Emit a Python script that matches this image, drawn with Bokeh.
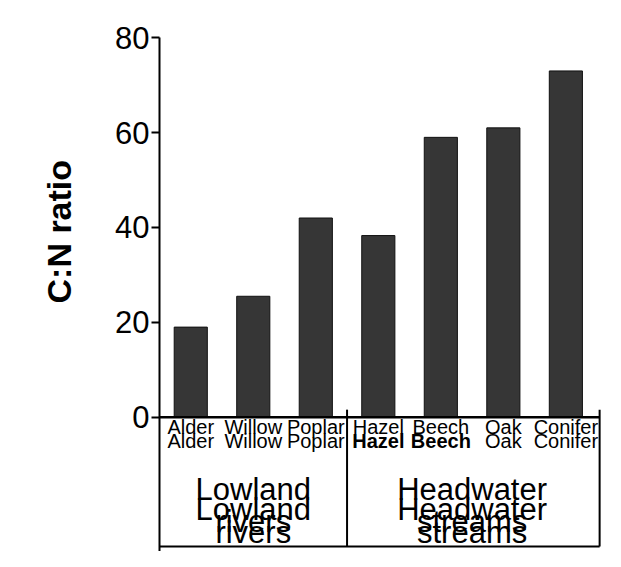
from bokeh.plotting import figure
from bokeh.models import Range1d, FixedTicker, ColumnDataSource, Title
from bokeh.embed import file_html
from bokeh.resources import INLINE
from bokeh.core.properties import value

# ---- data ----
species = ["Alder", "Willow", "Poplar", "Hazel", "Beech", "Oak", "Conifer"]
cn_ratio = [19, 25.5, 42, 38.3, 59, 61, 73]
groups = ["Lowland rivers", "Headwater streams"]
group_sizes = [3, 4]
y_ticks = [0, 20, 40, 60, 80]
y_label = "C:N ratio"

# ---- style ----
FONT = "Liberation Sans"
Y_BOTTOM = -28.30
TXT_SHIFT = 1.9          # text glyph baseline correction (data units)
second_row_styles = ["normal", "normal", "normal", "bold", "bold", "normal", "normal"]

n = len(species)
xpos = [i + 0.5 for i in range(n)]          # category slots on the x scale

p = figure(
    width=605, height=551,
    x_range=Range1d(0, n + 0.07),
    y_range=Range1d(Y_BOTTOM, 80.05),
    output_backend="svg", toolbar_location=None,
    min_border_left=159, min_border_right=4,
    min_border_top=37, min_border_bottom=0,
)
p.background_fill_color = "white"
p.border_fill_color = "white"
p.outline_line_color = None
p.grid.visible = False
p.xaxis.visible = False

yax = p.yaxis[0]
yax.ticker = FixedTicker(ticks=y_ticks)
yax.axis_line_width = 2
yax.axis_line_color = "black"
yax.major_tick_out = 8
yax.major_tick_in = 0
yax.major_tick_line_width = 2
yax.minor_tick_line_color = None
yax.major_label_text_font = FONT
yax.major_label_text_font_size = "31px"
yax.major_label_text_color = "black"
yax.major_label_standoff = 2

src = ColumnDataSource(dict(x=xpos, top=cn_ratio))
p.vbar(x="x", top="top", bottom=0, width=0.53, source=src,
       fill_color="#363636", line_color="#111111", line_width=1)

bounds = [0]
for s in group_sizes:
    bounds.append(bounds[-1] + s)

BOX_BOTTOM = -27.24
RIGHT = n + 0.04
# baseline
p.segment(x0=[0], y0=[0], x1=[RIGHT], y1=[0], line_color="black", line_width=2.5)
# box around category labels
p.segment(x0=[0], y0=[BOX_BOTTOM], x1=[RIGHT], y1=[BOX_BOTTOM],
          line_color="black", line_width=2)
p.segment(x0=[bounds[1], RIGHT], y0=[1.6, 1.6], x1=[bounds[1], RIGHT],
          y1=[BOX_BOTTOM, BOX_BOTTOM], line_color="black", line_width=2)

# category labels (two rows, as in the scan)
p.text(x=xpos, y=[-3.86 + TXT_SHIFT] * n, text=species, text_font=value(FONT),
       text_font_size="20px", text_align="center", text_baseline="alphabetic",
       text_color="black")
src2 = ColumnDataSource(dict(x=xpos, y=[-7.01 + TXT_SHIFT] * n, t=species,
                             st=second_row_styles))
p.text(x="x", y="y", text="t", source=src2, text_font=value(FONT),
       text_font_style="st",
       text_font_size="20px", text_align="center", text_baseline="alphabetic",
       text_color="black")

# group labels (duplicated, as in the scan)
gx = [(bounds[i] + bounds[i + 1]) / 2 for i in range(len(groups))]
line1 = [g.split(" ")[0] for g in groups]
line2 = [g.split(" ")[1] for g in groups]
for y1, y2 in [(-17.13, -23.87), (-21.34, -26.25)]:
    p.text(x=gx, y=[y1 + TXT_SHIFT] * len(gx), text=line1, text_font=value(FONT),
           text_font_size="31px", text_align="center",
           text_baseline="alphabetic", text_color="black")
    p.text(x=gx, y=[y2 + TXT_SHIFT] * len(gx), text=line2, text_font=value(FONT),
           text_font_size="31px", text_align="center",
           text_baseline="alphabetic", text_color="black")

# y axis title
p.add_layout(Title(text=y_label, align="left", vertical_align="bottom",
                   offset=248, standoff=70,
                   text_font=FONT, text_font_style="bold",
                   text_font_size="34px", text_color="black"), "left")

open("out.html", "w").write(file_html(p, INLINE))
